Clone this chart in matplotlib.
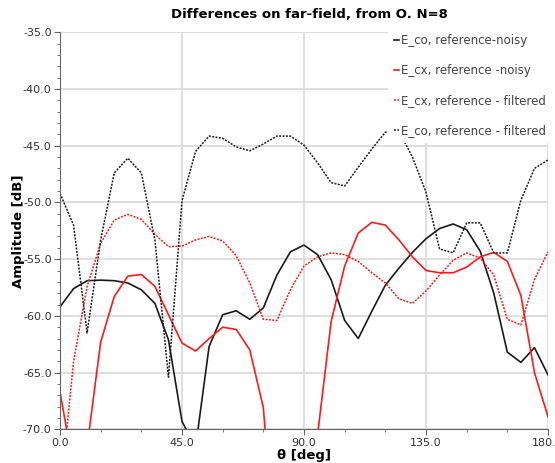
import numpy as np
import matplotlib
matplotlib.use("Agg")
import matplotlib.pyplot as plt
from matplotlib.ticker import MultipleLocator

# angles sampled every 5 degrees
theta = list(range(0, 181, 5))

e_co_noisy = [-59.2, -57.6, -56.9, -56.85, -56.9, -57.1, -57.7, -58.9, -62.1, -69.3,
              -71.6, -62.7, -59.9, -59.55, -60.3, -59.3, -56.4, -54.35, -53.76, -54.6,
              -56.8, -60.4, -62.0, -59.6, -57.3, -55.8, -54.4, -53.2, -52.3, -51.9,
              -52.4, -54.3, -58.0, -63.2, -64.1, -62.8, -65.2]

e_cx_noisy = [-66.7, -73.5, -71.5, -62.3, -58.3, -56.5, -56.35, -57.4, -59.9, -62.4,
              -63.1, -62.0, -61.0, -61.2, -63.0, -68.1, -83.0, -85.0, -78.0, -70.5,
              -60.5, -55.6, -52.7, -51.75, -52.0, -53.3, -54.8, -56.0, -56.2, -56.2,
              -55.7, -54.8, -54.4, -55.2, -58.2, -65.0, -68.9]

e_cx_filtered = [-76.0, -64.0, -57.4, -53.6, -51.55, -51.05, -51.5, -52.8, -53.9, -53.85,
                 -53.3, -53.0, -53.4, -54.7, -57.1, -60.3, -60.4, -57.7, -55.6, -54.8,
                 -54.45, -54.6, -55.2, -56.2, -57.1, -58.5, -58.9, -57.8, -56.4, -55.1,
                 -54.45, -54.9, -56.4, -60.3, -60.8, -56.8, -54.35]

e_co_filtered = [-49.2, -52.0, -61.5, -53.3, -47.4, -46.1, -47.4, -53.3, -65.4, -49.85,
                 -45.5, -44.15, -44.35, -45.1, -45.45, -44.85, -44.15, -44.15, -44.95, -46.5,
                 -48.25, -48.55, -46.9, -45.3, -43.8, -43.7, -46.0, -49.1, -54.1, -54.45,
                 -51.8, -51.8, -54.45, -54.45, -49.8, -47.0, -46.25]

labels = ["E_co, reference-noisy", "E_cx, reference -noisy",
          "E_cx, reference - filtered", "E_co, reference - filtered"]

fig = plt.figure(figsize=(5.55, 4.63), dpi=100)
ax = fig.add_axes([60/555, 1 - 429.3/463, (548 - 60)/555, (429.3 - 32.3)/463])

dots = (0, (1.3, 0.9))
ax.plot(theta, e_co_noisy, color="#1a1a1a", lw=1.2, label=labels[0])
ax.plot(theta, e_cx_noisy, color="#ff1a1a", lw=1.2, label=labels[1])
ax.plot(theta, e_cx_filtered, color="#ff1a1a", lw=1.1, ls=dots, label=labels[2])
ax.plot(theta, e_co_filtered, color="#1a1a1a", lw=1.1, ls=dots, label=labels[3])

ax.set_xlim(0, 180)
ax.set_ylim(-70, -35)
ax.xaxis.set_major_locator(MultipleLocator(45))
ax.xaxis.set_minor_locator(MultipleLocator(15))
ax.yaxis.set_major_locator(MultipleLocator(5))
ax.yaxis.set_minor_locator(MultipleLocator(1))
ax.xaxis.set_major_formatter(matplotlib.ticker.FormatStrFormatter("%.1f"))
ax.yaxis.set_major_formatter(matplotlib.ticker.FormatStrFormatter("%.1f"))
ax.grid(True, which="major", color="#dcdcdc", lw=1.3)
ax.set_axisbelow(True)

for s in ["top", "right"]:
    ax.spines[s].set_visible(False)
for s in ["left", "bottom"]:
    ax.spines[s].set_color("#666666")
ax.tick_params(which="major", length=4, color="#666666", labelsize=8, labelcolor="#333333", pad=2)
ax.tick_params(which="minor", length=2.5, color="#666666")

ax.set_title("Differences on far-field, from O. N=8", fontsize=9.5, fontweight="bold",
             x=0.512, pad=10)
ax.set_xlabel("θ [deg]", fontsize=9.5, fontweight="bold")
ax.set_ylabel("Amplitude [dB]", fontsize=9.5, fontweight="bold")
ax.xaxis.set_label_coords(0.5, -0.05)
ax.yaxis.set_label_coords(-0.072, 0.5)

leg = ax.legend(loc="upper left", bbox_to_anchor=(388/555, 1 - 28/463),
                bbox_transform=fig.transFigure, frameon=True, fancybox=False,
                edgecolor="none", facecolor="white", framealpha=1.0,
                fontsize=8.5, handlelength=0.45, handletextpad=0.15,
                labelspacing=1.45, borderpad=0.5, borderaxespad=0)
for t in leg.get_texts():
    t.set_color("#444444")

fig.savefig("out.png", dpi=100)
